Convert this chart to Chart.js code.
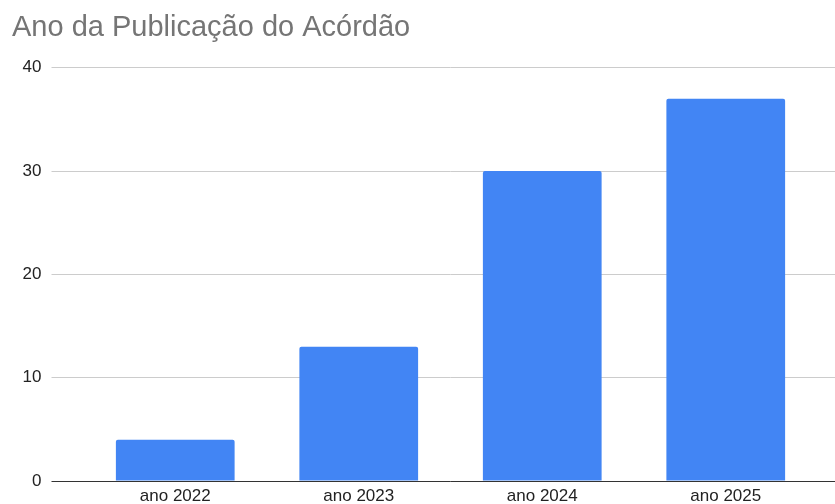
<!DOCTYPE html>
<html>
<head>
<meta charset="utf-8">
<script src="https://cdn.jsdelivr.net/npm/chart.js@4.4.1/dist/chart.umd.min.js"></script>
<style>
  body { margin: 0; background: #fff; }
  #wrap { width: 835px; height: 504px; }
</style>
</head>
<body>
<div id="wrap"><canvas id="anoChart" width="835" height="504"></canvas></div>
<script>
// dados do gráfico
const categorias = ['ano 2022', 'ano 2023', 'ano 2024', 'ano 2025'];
const quantidades = [4, 13, 30, 37];
const ticksY = [0, 10, 20, 30, 40];

const fonte = '"Liberation Sans", Arial, sans-serif';

// estende as linhas de grade até a borda direita
const extendeGrade = {
    id: 'extendeGrade',
    beforeDatasetsDraw(chart) {
        const { ctx, chartArea, scales } = chart;
        ctx.save();
        ctx.lineWidth = 1;
        ticksY.forEach(v => {
            const y = Math.round(scales.y.getPixelForValue(v) - 0.5) + 0.5;
            ctx.strokeStyle = v === 0 ? '#333333' : '#cccccc';
            ctx.beginPath();
            ctx.moveTo(chartArea.right - 1, y);
            ctx.lineTo(chart.width, y);
            ctx.stroke();
        });
        ctx.restore();
    }
};

window.addEventListener('DOMContentLoaded', () => {
    const ctx = document.getElementById('anoChart').getContext('2d');
    new Chart(ctx, {
        type: 'bar',
        data: {
            labels: categorias,
            datasets: [{
                label: 'Ano da Publicação do Acórdão',
                data: quantidades,
                backgroundColor: '#4285f4',
                borderRadius: 2,
                borderSkipped: 'start',
                categoryPercentage: 1,
                barPercentage: 0.647
            }]
        },
        options: {
            responsive: false,
            animation: false,
            layout: { padding: { left: 12, right: 17.5, top: 0, bottom: 0 } },
            plugins: {
                legend: { display: false },
                tooltip: { enabled: false },
                title: {
                    display: true,
                    text: 'Ano da Publicação do Acórdão',
                    align: 'start',
                    color: '#757575',
                    font: { family: fonte, size: 29, weight: 'normal' },
                    padding: { top: 11, bottom: 22 }
                }
            },
            scales: {
                x: {
                    grid: { display: false, drawTicks: false },
                    border: { display: false },
                    ticks: {
                        color: '#222222',
                        font: { family: fonte, size: 17 },
                        padding: 5,
                        maxRotation: 0
                    },
                    afterFit(scale) { scale.height = 23; }
                },
                y: {
                    min: 0,
                    max: 40,
                    afterBuildTicks(scale) {
                        scale.ticks = ticksY.map(v => ({ value: v }));
                    },
                    grid: {
                        color: c => (c.tick && c.tick.value === 0) ? '#333333' : '#cccccc',
                        tickColor: c => (c.tick && c.tick.value === 0) ? '#333333' : '#cccccc',
                        tickLength: 32,
                        lineWidth: 1
                    },
                    border: { display: false },
                    ticks: {
                        color: '#222222',
                        font: { family: fonte, size: 17 },
                        padding: 10
                    },
                    afterFit(scale) { scale.width = 71.5; }
                }
            }
        },
        plugins: [extendeGrade]
    });
});
</script>
</body>
</html>
